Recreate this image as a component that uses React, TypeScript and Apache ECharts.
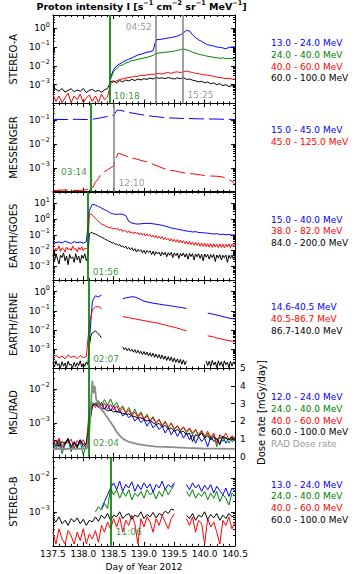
import React, { useEffect, useRef } from 'react';
import * as echarts from 'echarts';

const BLUE = '#0000ff';
const GREEN = '#008000';
const RED = '#ff0000';
const BLACK = '#000000';
const GRAY = '#808080';
const DOSE = '#8c8c8c';
const FONT = '"DejaVu Sans", sans-serif';

// ---------- time sampling of the uniformly sampled series (day of year) ----------
const T0 = 137.5;
const DT = 0.05;
const DT_FINE = 0.025;

// ---------- STEREO-A (log10 of intensity) ----------
const staBlueStart = 138.45;
const staBlue = [-2.6, -2.2, -2.0, -1.9, -1.8, -1.72, -1.65, -1.58, -1.5, -1.42, -1.38, -1.33, -1.28, -1.25, -1.2, -0.62, -0.6, -0.58, -0.55, -0.52, -0.5, -0.46, -0.42, -0.35, -0.25, -0.12, -0.15, -0.35, -0.5, -0.62, -0.7, -0.8, -0.88, -0.92, -0.95, -1.0, -1.02, -1.05, -1.1, -1.02, -1.0, -1.0];
const staGreenStart = 138.45;
const staGreen = [-2.7, -2.3, -2.15, -2.0, -1.95, -1.85, -1.8, -1.72, -1.7, -1.65, -1.62, -1.58, -1.55, -1.5, -1.45, -1.33, -1.32, -1.3, -1.28, -1.26, -1.24, -1.22, -1.18, -1.14, -1.1, -1.15, -1.2, -1.28, -1.33, -1.38, -1.42, -1.45, -1.5, -1.52, -1.55, -1.57, -1.6, -1.58, -1.62, -1.6, -1.63, -1.6];
const staRed = [-3.5, -3.9, -3.6, -3.95, -3.7, -3.45, -3.95, -3.6, -3.8, -3.5, -3.95, -3.7, -3.55, -3.9, -3.6, -3.95, -3.5, -3.8, -3.65, -2.95, -2.85, -2.8, -2.72, -2.7, -2.65, -2.62, -2.6, -2.55, -2.56, -2.5, -2.52, -2.48, -2.45, -2.46, -2.42, -2.4, -2.44, -2.38, -2.36, -2.4, -2.34, -2.32, -2.36, -2.3, -2.28, -2.32, -2.35, -2.4, -2.42, -2.45, -2.48, -2.5, -2.52, -2.56, -2.6, -2.62, -2.65, -2.68, -2.66, -2.7, -2.72];
const staBlack = [-3.15, -3.25, -3.35, -3.2, -3.4, -3.3, -3.22, -3.38, -3.28, -3.35, -3.2, -3.42, -3.3, -3.25, -3.36, -3.3, -3.4, -3.28, -3.2, -2.85, -2.8, -2.9, -2.78, -2.85, -2.75, -2.8, -2.72, -2.78, -2.7, -2.75, -2.68, -2.72, -2.65, -2.7, -2.62, -2.66, -2.64, -2.68, -2.62, -2.66, -2.7, -2.64, -2.68, -2.62, -2.72, -2.7, -2.76, -2.8, -2.85, -2.82, -2.9, -2.86, -2.95, -2.9, -3.0, -2.95, -3.05, -3.0, -3.1, -3.05, -3.12];

// ---------- MESSENGER ([day, log10 intensity]) ----------
const mesBlue = [[137.5, -0.97], [137.7, -0.98], [137.9, -0.97], [138.05, -0.98], [138.12, -0.95], [138.15, -0.97], [138.3, -0.9], [138.5, -0.8], [138.56, -0.58], [138.62, -0.6], [138.75, -0.68], [138.92, -0.76], [139.1, -0.83], [139.34, -0.9], [139.6, -0.93], [139.9, -0.95], [140.2, -0.96], [140.5, -0.98]];
const mesRed = [[137.5, -3.95], [137.7, -3.92], [137.9, -3.95], [138.1, -3.9], [138.15, -3.85], [138.2, -3.6], [138.25, -3.45], [138.3, -3.25], [138.35, -3.15], [138.4, -3.08], [138.45, -3.0], [138.5, -2.92], [138.53, -2.7], [138.57, -2.4], [138.6, -2.4], [138.7, -2.5], [138.8, -2.58], [138.9, -2.65], [139.0, -2.72], [139.1, -2.8], [139.2, -2.9], [139.3, -3.0], [139.4, -3.1], [139.5, -3.12], [139.6, -3.18], [139.7, -3.22], [139.8, -3.25], [139.9, -3.28], [140.0, -3.32], [140.1, -3.34], [140.2, -3.35], [140.3, -3.38], [140.35, -3.45], [140.4, -3.5], [140.45, -3.55], [140.5, -3.7]];

// ---------- EARTH/GOES ----------
const goesBlue = [-1.42, -1.5, -1.45, -1.52, -1.4, -1.48, -1.55, -1.43, -1.5, -1.46, -1.53, -1.44, 0.55, 0.95, 0.88, 0.8, 0.7, 0.6, 0.5, 0.38, 0.32, 0.3, 0.32, 0.3, 0.22, -0.15, -0.25, -0.3, -0.32, -0.3, -0.28, -0.27, -0.28, -0.3, -0.33, -0.36, -0.4, -0.45, -0.5, -0.57, -0.6, -0.64, -0.68, -0.72, -0.76, -0.78, -0.82, -0.8, -0.85, -0.86, -0.88, -0.9, -0.92, -0.95, -0.93, -0.98, -0.96, -1.0, -0.98, -1.02, -1.0];
// sampled every DT_FINE
const goesRed = [
  -1.75, -2.0, -1.85, -1.95, -1.7, -2.05, -1.82, -1.9, -2.1, -1.78, -1.95, -1.85, -2.0, -1.72, -1.92, -1.88, -2.08, -1.8, -1.95, -1.76, -2.02, -1.86, -1.9, -1.8,
  0.3, 0.32, 0.25, 0.15, 0.05, -0.05, -0.15, -0.22, -0.3, -0.36, -0.4, -0.47, -0.5, -0.56, -0.52, -0.6, -0.62, -0.58, -0.66, -0.6,
  -0.74, -0.64, -0.8, -0.7, -0.76, -0.86, -0.74, -0.9, -0.8, -0.94, -0.82, -0.92, -0.86, -1.0, -0.88, -1.02, -0.92, -1.08, -0.95, -1.06,
  -0.98, -1.14, -1.02, -1.18, -1.05, -1.22, -1.1, -1.24, -1.12, -1.3, -1.18, -1.32, -1.22, -1.4, -1.25, -1.42, -1.28, -1.46, -1.3, -1.5,
  -1.34, -1.52, -1.38, -1.56, -1.4, -1.6, -1.42, -1.62, -1.46, -1.66, -1.48, -1.68, -1.5, -1.72, -1.52, -1.74, -1.54, -1.76, -1.55, -1.78,
  -1.56, -1.8, -1.58, -1.78, -1.6, -1.82, -1.58, -1.8, -1.6, -1.84, -1.6, -1.78, -1.58, -1.82, -1.6, -1.76, -1.5];
const goesBlack = [
  -2.3, -2.7, -2.2, -2.55, -2.85, -2.3, -2.45, -2.15, -2.65, -2.35, -2.9, -2.25, -2.5, -2.4, -2.75, -2.2, -2.6, -2.35, -2.8, -2.3, -2.5, -2.2, -2.65, -2.4,
  -0.95, -0.85, -0.88, -0.92, -0.95, -1.0, -1.05, -1.1, -1.15, -1.2, -1.25, -1.32, -1.35, -1.42, -1.45, -1.52, -1.5, -1.6, -1.58, -1.68,
  -1.62, -1.75, -1.7, -1.82, -1.72, -1.9, -1.8, -1.95, -1.82, -2.02, -1.88, -2.1, -1.92, -2.05, -1.95, -2.15, -1.98, -2.2, -2.0, -2.12,
  -2.02, -2.25, -2.05, -2.3, -2.08, -2.22, -2.1, -2.35, -2.1, -2.28, -2.12, -2.4, -2.14, -2.3, -2.12, -2.45, -2.15, -2.32, -2.16, -2.5,
  -2.18, -2.35, -2.15, -2.42, -2.2, -2.55, -2.18, -2.38, -2.2, -2.6, -2.22, -2.4, -2.2, -2.5, -2.24, -2.65, -2.22, -2.42, -2.25, -2.55,
  -2.26, -2.45, -2.24, -2.7, -2.28, -2.48, -2.26, -2.6, -2.3, -2.45, -2.28, -2.75, -2.3, -2.5, -2.28, -2.58, -2.35];

// ---------- EARTH/ERNE (null = data gap) ----------
const erneBlue = [null, null, null, null, null, null, null, null, null, null, null, null, -2.6, -0.5, -0.22, -0.28, -0.18, null, null, null, null, null, null, -0.38, -0.33, -0.3, -0.27, -0.28, -0.35, -0.42, -0.5, -0.54, -0.57, -0.6, -0.63, -0.65, -0.68, -0.7, -0.72, -0.75, -0.77, -0.8, -0.82, -0.85, -0.88, null, null, null, null, null, null, -1.12, -1.15, -1.18, -1.22, -1.26, -1.3, -1.34, -1.38, -1.4, -1.43];
const erneRed = [-3.4, -3.3, -3.45, -3.35, -3.5, -3.3, -3.42, -3.36, -3.48, -3.32, -3.44, -3.38, -1.7, -0.95, -0.8, -0.78, -0.88, null, null, null, null, null, null, -1.3, -1.33, -1.36, -1.39, -1.42, -1.45, -1.48, -1.51, -1.54, -1.57, -1.6, -1.62, -1.66, -1.7, -1.74, -1.78, -1.82, -1.86, -1.9, -1.95, -2.0, -2.04, null, null, null, null, null, null, -2.3, -2.33, -2.36, -2.42, -2.44, -2.48, -2.52, -2.55, -2.58, -2.6];
// sampled every DT_FINE
const erneBlack = [
  -3.7, -3.92, -3.6, -3.85, -3.75, -3.95, -3.65, -3.88, -3.72, -3.95, -3.62, -3.82, -3.78, -3.95, -3.68, -3.9, -3.7, -3.85, -3.6, -3.92, -3.74, -3.88, -3.66, -3.8,
  -2.8, -2.3, -2.15, -2.1, -2.05, -2.12, -2.2, -2.3, -2.4,
  null, null, null, null, null, null, null, null, null, null, null, null, null,
  -2.88, -3.02, -2.92, -3.08, -2.96, -3.1, -3.0, -3.15, -3.02, -3.2, -3.05, -3.22, -3.1, -3.28, -3.12, -3.3, -3.15, -3.35, -3.18, -3.38,
  -3.2, -3.42, -3.25, -3.45, -3.28, -3.5, -3.3, -3.52, -3.35, -3.58, -3.38, -3.6, -3.4, -3.65, -3.45, -3.68, -3.5, -3.72, -3.52, -3.78, -3.55, -3.8, -3.6,
  null, null, null, null, null, null, null, null, null, null, null, null,
  -3.6, -3.85, -3.62, -3.9, -3.58, -3.82, -3.66, -3.95, -3.6, -3.85, -3.64, -3.92, -3.6, -3.8, -3.68, -3.95, -3.62, -3.88, -3.65, -3.8];

// ---------- MSL/RAD ----------
const mslBlue = [-3.55, -3.7, -3.5, -3.8, -3.6, -3.45, -3.75, -3.55, -3.68, -3.5, -3.72, -3.6, -3.0, -2.5, -2.45, -2.55, -2.4, -2.6, -2.45, -2.65, -2.5, -2.7, -2.62, -2.8, -2.72, -2.85, -2.78, -2.95, -2.85, -3.0, -2.9, -3.1, -2.95, -3.15, -3.05, -3.2, -3.1, -3.3, -3.15, -3.35, -3.2, -3.4, -3.25, -3.45, -3.3, -3.5, -3.35, -3.6, -3.4, -3.55, -3.45, -3.7, -3.4, -3.55, -3.45, -3.65, -3.4, -3.6, -3.45, -3.55, -3.5];
const mslGreen = [-3.6, -3.8, -3.55, -3.9, -3.65, -3.5, -3.85, -3.6, -3.75, -3.55, -3.95, -3.65, -2.6, -2.4, -2.5, -2.35, -2.5, -2.32, -2.48, -2.3, -2.52, -2.4, -2.6, -2.5, -2.7, -2.55, -2.75, -2.6, -2.8, -2.68, -2.88, -2.75, -2.95, -2.82, -3.0, -2.9, -3.1, -2.95, -3.15, -3.0, -3.2, -3.1, -3.25, -3.12, -3.3, -3.18, -3.35, -3.2, -3.4, -3.25, -3.45, -3.3, -3.5, -3.35, -3.7, -3.4, -3.55, -3.42, -3.6, -3.45, -3.5];
const mslRed = [-3.5, -3.65, -3.45, -3.7, -3.55, -3.6, -3.48, -3.75, -3.52, -3.62, -3.5, -3.7, -2.8, -2.45, -2.55, -2.4, -2.58, -2.42, -2.6, -2.45, -2.62, -2.5, -2.68, -2.55, -2.72, -2.62, -2.8, -2.68, -2.85, -2.72, -2.9, -2.8, -2.95, -2.85, -3.02, -2.9, -3.08, -2.98, -3.12, -3.02, -3.18, -3.08, -3.22, -3.12, -3.25, -3.15, -3.3, -3.2, -3.35, -3.22, -3.4, -3.25, -3.42, -3.3, -3.6, -3.35, -3.45, -3.3, -3.5, -3.38, -3.45];
const mslBlack = [-3.65, -3.5, -3.7, -3.55, -3.62, -3.48, -3.68, -3.58, -3.72, -3.5, -3.64, -3.6, -3.1, -2.5, -2.42, -2.5, -2.6, -2.58, -2.65, -2.62, -2.68, -2.66, -2.7, -2.72, -2.75, -2.74, -2.8, -2.82, -2.86, -2.85, -2.9, -2.95, -2.92, -3.0, -3.05, -3.02, -3.12, -3.08, -3.18, -3.15, -3.25, -3.2, -3.28, -3.25, -3.35, -3.3, -3.55, -3.35, -3.4, -3.3, -3.45, -3.38, -3.5, -3.42, -3.48, -3.6, -3.4, -3.45, -3.5, -3.42, -3.48];
// RAD dose rate [mGy/day] as [day, value]
const radDose = [[137.5, 0.45], [137.6, 0.47], [137.7, 0.44], [137.8, 0.46], [137.9, 0.45], [138.0, 0.47], [138.06, 0.46], [138.1, 1.5], [138.13, 3.2], [138.15, 4.3], [138.17, 3.6], [138.19, 4.0], [138.21, 3.3], [138.24, 3.0], [138.28, 2.75], [138.32, 2.6], [138.36, 2.4], [138.4, 2.2], [138.45, 1.95], [138.5, 1.7], [138.55, 1.4], [138.6, 1.2], [138.66, 1.0], [138.75, 0.85], [138.82, 0.79], [138.9, 0.72], [139.03, 0.64], [139.2, 0.58], [139.44, 0.55], [139.7, 0.5], [139.96, 0.47], [140.2, 0.46], [140.5, 0.45]];

// ---------- STEREO-B ----------
const stbBlue = [null, null, null, null, null, null, null, null, null, null, null, null, null, null, null, null, -2.9, -2.7, -2.5, -2.3, -2.15, -2.35, -2.1, -2.4, -2.2, -2.3, -2.12, -2.4, -2.2, -2.35, -2.15, -2.3, -2.18, -2.42, -2.2, -2.3, -2.1, -2.35, -2.2, -2.28, -2.15, null, null, null, -2.2, -2.35, -2.15, -2.3, -2.2, -2.4, -2.22, -2.35, -2.2, -2.45, -2.25, -2.38, -2.5, -2.3, -2.55, -2.3, -2.4];
const stbGreen = [null, null, null, null, null, null, null, null, null, null, null, null, null, null, -3.0, -2.85, -2.95, -2.75, -2.9, -2.3, -2.5, -2.35, -2.6, -2.4, -2.55, -2.35, -2.65, -2.45, -2.55, -2.4, -2.6, -2.35, -2.5, -2.42, -2.62, -2.4, -2.55, -2.3, -2.5, -2.35, -2.2, null, null, null, -2.4, -2.55, -2.35, -2.6, -2.45, -2.55, -2.4, -2.65, -2.45, -2.6, -2.4, -2.7, -2.5, -2.6, -2.8, -2.45, -2.55];
const stbRed = [-3.6, -3.95, -3.5, -3.8, -3.95, -3.55, -3.7, -3.95, -3.6, -3.85, -3.5, -3.95, -3.65, -3.8, -3.55, -3.9, -3.4, -3.6, -3.3, -3.5, -3.2, -3.45, -3.15, -3.6, -3.25, -3.4, -3.1, -3.35, -3.95, -3.2, -3.45, -3.15, -3.3, -3.6, -3.2, -3.4, -3.1, -3.3, -3.5, -3.2, -3.05, null, null, null, -3.2, -3.4, -3.15, -3.6, -3.25, -3.35, -3.95, -3.2, -3.45, -3.3, -3.6, -3.95, -3.25, -3.4, -3.15, -3.5, -3.3];
const stbBlack = [-3.2, -3.3, -3.15, -3.35, -3.25, -3.4, -3.2, -3.3, -3.18, -3.35, -3.22, -3.4, -3.25, -3.3, -3.15, -3.28, -3.1, -3.2, -3.05, -3.25, -3.1, -3.15, -3.0, -3.2, -3.1, -3.05, -3.22, -3.1, -3.15, -3.0, -3.2, -3.08, -3.15, -3.02, -3.18, -3.05, -3.1, -2.98, -3.05, -2.92, -2.95, null, null, null, -3.1, -3.2, -3.05, -3.25, -3.1, -3.15, -3.0, -3.22, -3.08, -3.18, -3.05, -3.25, -3.1, -3.2, -3.05, -3.15, -3.1];

// ---------- event times (day, "HH:MM") ----------
const eventsA = [[138, '10:18'], [139, '04:52'], [139, '15:25']];
const eventsMes = [[138, '03:14'], [138, '12:10']];
const eventsGoes = [[138, '01:56']];
const eventsErne = [[138, '02:07']];
const eventsMsl = [[138, '02:04']];
const eventsB = [[138, '11:06']];

// ---------- legends ----------
const legA = ['13.0 - 24.0 MeV', '24.0 - 40.0 MeV', '40.0 - 60.0 MeV', '60.0 - 100.0 MeV'];
const legMes = ['15.0 - 45.0 MeV', '45.0 - 125.0 MeV'];
const legGoes = ['15.0 - 40.0 MeV', '38.0 - 82.0 MeV', '84.0 - 200.0 MeV'];
const legErne = ['14.6-40.5 MeV', '40.5-86.7 MeV', '86.7-140.0 MeV'];
const legMsl = ['12.0 - 24.0 MeV', '24.0 - 40.0 MeV', '40.0 - 60.0 MeV', '60.0 - 100.0 MeV', 'RAD Dose rate'];
const legB = ['13.0 - 24.0 MeV', '24.0 - 40.0 MeV', '40.0 - 60.0 MeV', '60.0 - 100.0 MeV'];

const panelNames = ['STEREO-A', 'MESSENGER', 'EARTH/GOES', 'EARTH/ERNE', 'MSL/RAD', 'STEREO-B'];
const panelMin = [1e-4, 1e-4, 1.3e-4, 1e-4, 1e-4, 1e-4];
const panelMax = [5, 0.5, 55, 4, 0.04, 0.04];
const panelExpLabels = [[-3, -2, -1, 0], [-3, -2, -1], [-3, -2, -1, 0, 1], [-3, -2, -1, 0], [-3, -2], [-3, -2]];
const doseTicks = [0, 5, 1];
const xTicks = [137.5, 140.5, 0.5];

// ---------- layout ----------
const GRID_LEFT = 42;
const GRID_W = 193;
const GRID_TOPS = [15, 103.3, 191.7, 280, 368.3, 457.3];
const GRID_H = 88.5;
const LEG_X = 271;
const LEG_Y0 = [43, 130, 219.5, 307, 397, 484.5];
const LEG_DY = 11.8;

const toDay = (d: number, hm: string) => {
  const [h, m] = hm.split(':').map(Number);
  return d + (h + m / 60) / 24;
};
const sampled = (start: number, vals: (number | null)[], step: number = DT) =>
  vals.map((v, i) => [Math.round((start + i * step) * 1000) / 1000, v === null ? '-' : Math.pow(10, v)]);
const pairsLog = (p: number[][]) => p.map(([t, v]) => [t, Math.pow(10, v)]);

const MINUS = '\u2212';
const richSup = {
  b: { fontSize: 9, lineHeight: 14, color: '#000', fontFamily: FONT },
  s: { fontSize: 6.5, lineHeight: 7, verticalAlign: 'top', color: '#000', fontFamily: FONT },
};

function buildOption() {
  const grids: any[] = [];
  const xAxes: any[] = [];
  const yAxes: any[] = [];
  const series: any[] = [];
  const graphics: any[] = [];

  for (let i = 0; i < 6; i++) {
    grids.push({ left: GRID_LEFT, top: GRID_TOPS[i], width: GRID_W, height: GRID_H });
    const xBase = {
      type: 'value', gridIndex: i, min: xTicks[0], max: xTicks[1], interval: xTicks[2],
      axisLine: { show: true, onZero: false, lineStyle: { color: '#000', width: 1 } },
      axisTick: { show: true, inside: true, length: 4, lineStyle: { color: '#000' } },
      minorTick: { show: true, splitNumber: 5, length: 2, lineStyle: { color: '#000' } },
      splitLine: { show: false }, minorSplitLine: { show: false },
    };
    xAxes.push({
      ...xBase, position: 'bottom',
      axisLabel: { show: i === 5, color: '#000', fontSize: 9, fontFamily: FONT, margin: 4, formatter: (v: number) => v.toFixed(1) },
      name: i === 5 ? 'Day of Year 2012' : '', nameLocation: 'middle', nameGap: 17,
      nameTextStyle: { color: '#000', fontSize: 9, fontFamily: FONT },
    });
    xAxes.push({ ...xBase, position: 'top', axisLabel: { show: false } });

    const exps = panelExpLabels[i];
    const yBase = {
      type: 'log', logBase: 10, gridIndex: i, min: panelMin[i], max: panelMax[i],
      axisLine: { show: true, onZero: false, lineStyle: { color: '#000', width: 1 } },
      axisTick: { show: true, inside: true, length: 4, lineStyle: { color: '#000' } },
      minorTick: { show: true, splitNumber: 9, length: 2, lineStyle: { color: '#000' } },
      splitLine: { show: false }, minorSplitLine: { show: false },
    };
    yAxes.push({
      ...yBase, position: 'left',
      axisLabel: {
        show: true, margin: 3, color: '#000', fontFamily: FONT, rich: richSup,
        showMinLabel: true, showMaxLabel: true,
        formatter: (v: number) => {
          const l = Math.log10(v);
          const e = Math.round(l);
          if (Math.abs(l - e) > 0.01 || exps.indexOf(e) < 0) return '';
          return '{b|10}{s|' + (e < 0 ? MINUS + Math.abs(e) : String(e)) + '}';
        },
      },
      name: panelNames[i], nameLocation: 'middle', nameGap: 26, nameRotate: 90,
      nameTextStyle: { color: '#000', fontSize: 10, fontFamily: FONT },
    });
    if (i === 4) {
      yAxes.push({
        type: 'value', gridIndex: i, position: 'right', min: doseTicks[0], max: doseTicks[1], interval: doseTicks[2],
        axisLine: { show: true, onZero: false, lineStyle: { color: '#000', width: 1 } },
        axisTick: { show: true, inside: true, length: 4, lineStyle: { color: '#000' } },
        splitLine: { show: false },
        axisLabel: { show: true, color: '#000', fontSize: 9, fontFamily: FONT, margin: 5 },
        name: 'Dose rate [mGy/day]', nameLocation: 'middle', nameGap: 14, nameRotate: 90,
        nameTextStyle: { color: '#000', fontSize: 10, fontFamily: FONT },
      });
    } else {
      yAxes.push({ ...yBase, position: 'right', axisLabel: { show: false } });
    }
  }

  const line = (panel: number, color: string, data: any[], extra: any = {}) => ({
    type: 'line', xAxisIndex: panel * 2, yAxisIndex: extra.yAxisIndex !== undefined ? extra.yAxisIndex : panel * 2, data,
    showSymbol: false, symbol: 'none', connectNulls: false, silent: true,
    lineStyle: { color, width: 1, ...(extra.lineStyle || {}) },
    itemStyle: { color },
  });

  // Panel 1 STEREO-A
  series.push(line(0, BLUE, sampled(staBlueStart, staBlue)));
  series.push(line(0, GREEN, sampled(staGreenStart, staGreen)));
  series.push(line(0, RED, sampled(T0, staRed)));
  series.push(line(0, BLACK, sampled(T0, staBlack)));
  // Panel 2 MESSENGER
  series.push(line(1, BLUE, pairsLog(mesBlue), { lineStyle: { type: [15, 5] } }));
  series.push(line(1, RED, pairsLog(mesRed), { lineStyle: { type: [15, 5] } }));
  // Panel 3 GOES
  series.push(line(2, BLUE, sampled(T0, goesBlue)));
  series.push(line(2, RED, sampled(T0, goesRed, DT_FINE)));
  series.push(line(2, BLACK, sampled(T0, goesBlack, DT_FINE)));
  // Panel 4 ERNE
  series.push(line(3, BLUE, sampled(T0, erneBlue)));
  series.push(line(3, RED, sampled(T0, erneRed)));
  series.push(line(3, BLACK, sampled(T0, erneBlack, DT_FINE)));
  // Panel 5 MSL/RAD
  series.push(line(4, BLUE, sampled(T0, mslBlue)));
  series.push(line(4, GREEN, sampled(T0, mslGreen)));
  series.push(line(4, RED, sampled(T0, mslRed)));
  series.push(line(4, BLACK, sampled(T0, mslBlack)));
  series.push(line(4, DOSE, radDose, { yAxisIndex: 9, lineStyle: { width: 1.8 } }));
  // Panel 6 STEREO-B
  series.push(line(5, BLUE, sampled(T0, stbBlue)));
  series.push(line(5, GREEN, sampled(T0, stbGreen)));
  series.push(line(5, RED, sampled(T0, stbRed)));
  series.push(line(5, BLACK, sampled(T0, stbBlack)));

  // event markers: [events, colors, label sides, label log10 y positions]
  const markerSpecs: any[] = [
    [eventsA, [GREEN, GRAY, GRAY], ['right', 'left', 'right'], [-3.58, 0.08, -3.55]],
    [eventsMes, [GREEN, GRAY], ['left', 'right'], [-3.16, -3.63]],
    [eventsGoes, [GREEN], ['right'], [-3.38]],
    [eventsErne, [GREEN], ['right'], [-3.49]],
    [eventsMsl, [GREEN], ['right'], [-3.6]],
    [eventsB, [GREEN], ['right'], [-3.6]],
  ];
  markerSpecs.forEach(([evs, cols, sides, ys], p) => {
    const data = evs.map((ev: any, k: number) => ({
      value: [toDay(ev[0], ev[1]), Math.pow(10, ys[k])],
      label: { show: true, formatter: ev[1], position: sides[k], distance: 4, color: cols[k], fontSize: 9, fontFamily: FONT },
    }));
    series.push({
      type: 'scatter', xAxisIndex: p * 2, yAxisIndex: p * 2, data, symbolSize: 1, silent: true,
      itemStyle: { color: 'rgba(0,0,0,0)' }, z: 5,
      markLine: {
        silent: true, symbol: ['none', 'none'], label: { show: false }, animation: false,
        data: evs.map((ev: any, k: number) => ({
          xAxis: toDay(ev[0], ev[1]),
          lineStyle: { color: cols[k], width: cols[k] === GREEN ? 1.7 : 1.5, type: 'solid' },
        })),
      },
    });
  });

  // legends
  const legs: [string[], string[]][] = [
    [legA, [BLUE, GREEN, RED, BLACK]],
    [legMes, [BLUE, RED]],
    [legGoes, [BLUE, RED, BLACK]],
    [legErne, [BLUE, RED, BLACK]],
    [legMsl, [BLUE, GREEN, RED, BLACK, '#999999']],
    [legB, [BLUE, GREEN, RED, BLACK]],
  ];
  legs.forEach(([texts, cols], p) => {
    texts.forEach((t, k) => {
      graphics.push({
        type: 'text', x: LEG_X, y: LEG_Y0[p] + k * LEG_DY,
        style: { text: t, fill: cols[k], fontSize: 9, fontFamily: FONT, align: 'left', verticalAlign: 'middle' },
      });
    });
  });

  // title
  graphics.push({
    type: 'text', x: 141.5, y: 6,
    style: {
      text: '{b|Proton intensity I [s}{s|' + MINUS + '1}{b| cm}{s|' + MINUS + '2}{b| sr}{s|' + MINUS + '1}{b| MeV}{s|' + MINUS + '1}{b|]}',
      align: 'center', verticalAlign: 'middle',
      rich: {
        b: { fontSize: 9.5, fontWeight: 'bold', lineHeight: 14, fill: '#000', fontFamily: FONT },
        s: { fontSize: 6.5, fontWeight: 'bold', lineHeight: 7, verticalAlign: 'top', fill: '#000', fontFamily: FONT },
      },
    },
  });

  return {
    animation: false,
    backgroundColor: '#ffffff',
    textStyle: { fontFamily: FONT },
    grid: grids,
    xAxis: xAxes,
    yAxis: yAxes,
    series,
    graphic: graphics,
  };
}

export default function App() {
  const ref = useRef<HTMLDivElement>(null);
  useEffect(() => {
    if (!ref.current) return;
    const chart = echarts.init(ref.current, undefined, { renderer: 'svg' });
    chart.setOption(buildOption() as any);
    return () => chart.dispose();
  }, []);
  return (
    <div
      ref={ref}
      style={{ position: 'absolute', left: 0, top: 0, width: 355, height: 574, background: '#fff' }}
    />
  );
}
